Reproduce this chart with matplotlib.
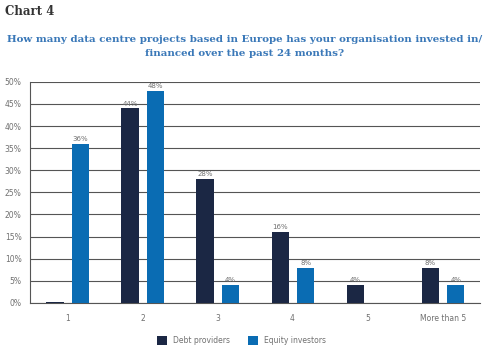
import matplotlib.pyplot as plt
import numpy as np

categories = ['1', '2', '3', '4', '5', 'More than 5']
debt = [0.3, 44, 28, 16, 4, 8]
equity = [36, 48, 4, 8, 0, 4]
debt_labels = ['', '44%', '28%', '16%', '4%', '8%']
equity_labels = ['36%', '48%', '4%', '8%', '', '4%']

navy = '#1b2744'
blue = '#0a6cb3'
grey = '#707070'

fig = plt.figure(figsize=(4.89, 3.53), dpi=100)
ax = fig.add_axes([0.061, 0.142, 0.921, 0.626])

x = np.arange(len(categories))
w = 0.23
b1 = ax.bar(x - 0.165, debt, w, color=navy, label='Debt providers', zorder=3)
b2 = ax.bar(x + 0.175, equity, w, color=blue, label='Equity investors', zorder=3)

for rect, lab in zip(b1, debt_labels):
    if lab:
        ax.text(rect.get_x() + rect.get_width() / 2, rect.get_height() + 0.4, lab,
                ha='center', va='bottom', fontsize=5, color=grey)
for rect, lab in zip(b2, equity_labels):
    if lab:
        ax.text(rect.get_x() + rect.get_width() / 2, rect.get_height() + 0.4, lab,
                ha='center', va='bottom', fontsize=5, color=grey)

ax.set_xlim(-0.5, len(categories) - 0.5)
ax.set_ylim(0, 50)
ax.set_yticks(range(0, 51, 5))
ax.set_yticklabels([f'{v}%' for v in range(0, 51, 5)])
ax.set_xticks(x)
ax.set_xticklabels(categories)
ax.tick_params(axis='both', length=0, labelsize=5.5, colors=grey, pad=8)
ax.tick_params(axis='y', pad=6)
ax.grid(axis='y', color='#555555', linewidth=0.8, zorder=0)
for s in ['top', 'right']:
    ax.spines[s].set_visible(False)
ax.spines['left'].set_color('#555555')
ax.spines['bottom'].set_color('#555555')
ax.spines['left'].set_linewidth(0.8)
ax.spines['bottom'].set_linewidth(0.8)

ax.legend(loc='center', bbox_to_anchor=(0.47, -0.17), ncol=2, frameon=False,
          fontsize=5.5, handlelength=1.3, handleheight=1.3, columnspacing=2.3,
          labelcolor=grey)

fig.text(0.01, 0.968, 'Chart 4', fontsize=8.5, fontweight='bold', family='DejaVu Serif',
         color='#333333', va='center', ha='left')
fig.text(0.5, 0.868, 'How many data centre projects based in Europe has your organisation invested in/\nfinanced over the past 24 months?',
         fontsize=7.4, fontweight='bold', family='DejaVu Serif', color='#3a78b8',
         ha='center', va='center', linespacing=1.6)

fig.savefig('out.png', dpi=100)
